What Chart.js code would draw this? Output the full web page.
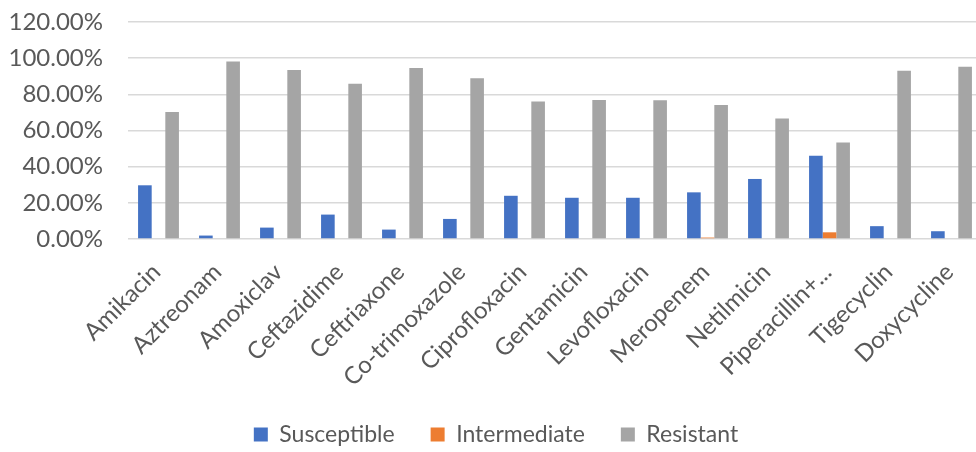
<!DOCTYPE html>
<html>
<head>
<meta charset="utf-8">
<script src="https://cdn.jsdelivr.net/npm/chart.js@4"></script>
<style>
  html, body { margin: 0; padding: 0; background: #fff; overflow: hidden; }
  #wrap { position: relative; width: 986px; height: 452px; }
</style>
</head>
<body>
<div id="wrap"><canvas id="chart"></canvas></div>
<script>
// Antibiotic susceptibility pattern (% of isolates)
const antibiotics = ['Amikacin', 'Aztreonam', 'Amoxiclav', 'Ceftazidime', 'Ceftriaxone', 'Co-trimoxazole',
  'Ciprofloxacin', 'Gentamicin', 'Levofloxacin', 'Meropenem', 'Netilmicin', 'Piperacillin+...',
  'Tigecyclin', 'Doxycycline'];
const susceptible  = [29.7, 1.9, 6.3, 13.5, 5.2, 11.1, 23.9, 22.8, 22.8, 25.8, 33.2, 46.1, 7.1, 4.3];
const intermediate = [0, 0, 0, 0, 0, 0, 0, 0, 0, 0.8, 0, 3.7, 0, 0];
const resistant    = [70.2, 98.2, 93.5, 85.9, 94.6, 88.9, 76.1, 76.9, 76.7, 74.1, 66.7, 53.3, 93.0, 95.2];
const yTicks = [0, 20, 40, 60, 80, 100, 120];

const FONT = 'Lato, "Open Sans", sans-serif';
const TEXT = '#595959';

new Chart(document.getElementById('chart'), {
  type: 'bar',
  data: {
    labels: antibiotics,
    datasets: [
      { label: 'Susceptible', data: susceptible, backgroundColor: '#4472C4' },
      { label: 'Intermediate', data: intermediate, backgroundColor: '#ED7D31' },
      { label: 'Resistant', data: resistant, backgroundColor: '#A5A5A5' }
    ]
  },
  options: {
    responsive: true,
    maintainAspectRatio: false,
    animation: false,
    datasets: { bar: { categoryPercentage: 0.67, barPercentage: 1.0 } },
    layout: { padding: { top: 22, right: 4, left: 10, bottom: -4 } },
    plugins: {
      tooltip: { enabled: false },
      legend: {
        position: 'bottom',
        labels: {
          font: { family: FONT, size: 23 },
          color: TEXT,
          boxWidth: 14,
          boxHeight: 14,
          padding: 36
        }
      }
    },
    scales: {
      x: {
        grid: { display: false },
        border: { display: false },
        ticks: {
          color: TEXT,
          font: { family: FONT, size: 24 },
          maxRotation: 45,
          minRotation: 45,
          autoSkip: false,
          padding: 11,
          labelOffset: -2
        },
        afterFit: (s) => {
          s.paddingLeft = 0;
          s.paddingRight = 0;
          s.height = 148;
        }
      },
      y: {
        min: 0,
        max: 120,
        afterBuildTicks: (axis) => { axis.ticks = yTicks.map(v => ({ value: v })); },
        grid: { color: '#D9D9D9', lineWidth: 1.5, drawTicks: false },
        border: { display: false },
        ticks: {
          color: TEXT,
          font: { family: FONT, size: 24 },
          padding: 25,
          callback: (v) => v.toFixed(2) + '%'
        },
        afterFit: (s) => {
          s.paddingTop = 0;
          s.paddingBottom = 0;
          s.width = 118;
        }
      }
    }
  }
});
</script>
</body>
</html>
